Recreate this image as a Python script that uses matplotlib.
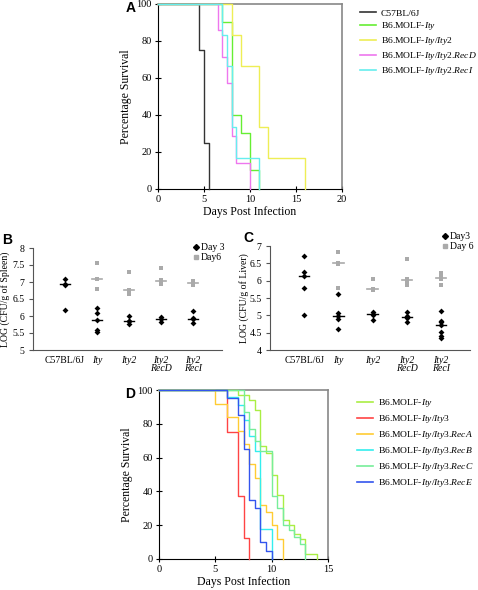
import numpy as np
import matplotlib
matplotlib.use("agg")
import matplotlib.pyplot as plt
from matplotlib.lines import Line2D

plt.rcParams["font.family"] = ["Liberation Serif", "DejaVu Serif"]
plt.rcParams["mathtext.fontset"] = "custom"
plt.rcParams["mathtext.rm"] = "Liberation Serif"
plt.rcParams["mathtext.it"] = "Liberation Serif:italic"

# ---- panel A: survival (time of drop, % surviving after drop)
a_names = ["C57BL/6J", "B6.MOLF-$\\mathit{Ity}$", "B6.MOLF-$\\mathit{Ity/Ity2}$",
           "B6.MOLF-$\\mathit{Ity/Ity2}$.$\\mathit{RecD}$",
           "B6.MOLF-$\\mathit{Ity/Ity2}$.$\\mathit{RecI}$"]
a_colors = ["#333333", "#66ee33", "#eeee55", "#ee77ee", "#66eeee"]
a_times = [[0, 4.5, 5, 5.5],
           [0, 7, 8, 9, 10, 11],
           [0, 8, 9, 11, 12, 16],
           [0, 6.5, 7, 7.5, 8, 8.5, 10],
           [0, 7, 7.5, 8, 8.5, 11]]
a_surv = [[100, 75, 25, 0],
          [100, 90, 40, 30, 10, 0],
          [100, 83.3, 66.7, 33.3, 16.7, 0],
          [100, 85.7, 71.4, 57.1, 28.6, 14.3, 0],
          [100, 83.3, 66.7, 33.3, 16.7, 0]]

# ---- panels B / C: log CFU
groups = ["C57BL/6J", "Ity", "Ity2", "Ity2\nRecD", "Ity2\nRecI"]
spleen_d3 = [[7.08, 6.95, 6.92, 6.18],
             [6.24, 6.09, 5.87, 5.58, 5.52],
             [6.01, 5.86, 5.84, 5.76],
             [5.98, 5.90, 5.82],
             [6.15, 5.95, 5.90, 5.80]]
spleen_d6 = [[],
             [7.57, 7.10, 7.08, 6.79],
             [7.30, 6.77, 6.65],
             [7.42, 7.05, 7.00, 6.95],
             [7.02, 6.98, 6.92]]
liver_d3 = [[6.71, 6.26, 6.14, 5.78, 5.01],
            [5.62, 5.07, 4.97, 4.88, 4.61],
            [5.10, 5.05, 5.00, 4.87],
            [5.10, 4.97, 4.92, 4.82],
            [5.12, 4.84, 4.80, 4.72, 4.51, 4.41, 4.35]]
liver_d6 = [[],
            [6.84, 6.52, 6.48, 5.80],
            [6.04, 5.76, 5.72],
            [6.62, 6.05, 6.00, 5.88],
            [6.21, 6.12, 6.05, 5.88]]

# ---- panel D: survival
d_names = ["B6.MOLF-$\\mathit{Ity}$", "B6.MOLF-$\\mathit{Ity/Ity3}$",
           "B6.MOLF-$\\mathit{Ity/Ity3}$.$\\mathit{RecA}$",
           "B6.MOLF-$\\mathit{Ity/Ity3}$.$\\mathit{RecB}$",
           "B6.MOLF-$\\mathit{Ity/Ity3}$.$\\mathit{RecC}$",
           "B6.MOLF-$\\mathit{Ity/Ity3}$.$\\mathit{RecE}$"]
d_colors = ["#aaee44", "#ff4444", "#ffcc33", "#33eeee", "#77ee99", "#3355ee"]
d_times = [[0, 7, 8, 8.5, 9, 9.5, 10, 10.5, 11, 11.5, 12, 12.5, 13, 14],
           [0, 6, 7, 7.5, 8],
           [0, 5, 6, 7, 7.5, 8, 8.5, 9, 9.5, 10, 10.5, 11],
           [0, 6, 7, 7.5, 8, 8.5, 9, 10],
           [0, 7.5, 8, 8.5, 9, 10, 10.5, 11, 11.5, 12, 12.5, 13],
           [0, 6, 7, 7.5, 8, 8.5, 9, 9.5, 10]]
d_surv = [[100, 97, 94, 88, 67, 63, 50, 38, 23, 20, 15, 12, 3, 0],
          [100, 75, 37.5, 12.5, 0],
          [100, 92, 84, 76, 68, 56, 48, 32, 28, 20, 12, 0],
          [100, 96, 91, 82, 73, 64, 18, 0],
          [100, 87, 77, 70, 64, 37, 30, 20, 17, 13, 9, 0],
          [100, 95, 85, 65, 35, 30, 10, 5, 0]]

W, H = 478, 590
fig = plt.figure(figsize=(W / 100, H / 100), dpi=100)


def px_axes(left, top, right, bottom):
    return fig.add_axes([left / W, 1 - bottom / H, (right - left) / W, (bottom - top) / H])


def survival(ax, times, survs, colors, xmax, xticks):
    for t, s, c in zip(times, survs, colors):
        ax.step(t, s, where="post", color=c, lw=1.0, zorder=3, clip_on=False)
    ax.set_xlim(0, xmax)
    ax.set_ylim(0, 100)
    ax.set_xticks(xticks)
    ax.set_yticks([0, 20, 40, 60, 80, 100])
    for side in ["top", "right"]:
        ax.spines[side].set_color("#888888")
        ax.spines[side].set_linewidth(1.2)
    ax.tick_params(direction="inout", length=5, labelsize=7.5, pad=2)
    ax.set_xlabel("Days Post Infection", fontsize=8.5, labelpad=1)
    ax.set_ylabel("Percentage Survival", fontsize=8.5, labelpad=3)


def legend(handles, labels, x, y, **kw):
    opts = dict(frameon=False, fontsize=6.8, handlelength=1.7, handletextpad=0.5,
                labelspacing=0.2, borderpad=0, borderaxespad=0)
    opts.update(kw)
    fig.legend(handles, labels, loc="upper left", bbox_to_anchor=(x / W, 1 - y / H), **opts)


# A
axA = px_axes(158, 4, 342, 189)
survival(axA, a_times, a_surv, a_colors, 20, [0, 5, 10, 15, 20])
legend([Line2D([], [], color=c, lw=1.2) for c in a_colors], a_names, 360, 9, labelspacing=0.3)


def cfu(ax, d3, d6, ymin, ymax, yticks, ylabel, xmax, labelpad):
    for i in range(len(groups)):
        x = i + 1
        if d6[i]:
            ax.scatter([x] * len(d6[i]), d6[i], marker="s", s=9, color="#aaaaaa", lw=0, zorder=3)
            m = np.median(d6[i])
            ax.plot([x - 0.15, x + 0.15], [m, m], color="#aaaaaa", lw=1.2, zorder=3)
        ax.scatter([x] * len(d3[i]), d3[i], marker="D", s=9, color="black", lw=0, zorder=4)
        m = np.median(d3[i])
        ax.plot([x - 0.15, x + 0.15], [m, m], color="black", lw=1.0, zorder=4)
    ax.set_xlim(0, xmax)
    ax.set_ylim(ymin, ymax)
    ax.set_yticks(yticks)
    ax.set_yticklabels([("%g" % v) for v in yticks])
    ax.set_xticks(range(1, len(groups) + 1))
    ax.set_xticklabels(groups, fontsize=7)
    for j, lab in enumerate(ax.get_xticklabels()):
        if j > 0:
            lab.set_fontstyle("italic")
        lab.set_linespacing(0.95)
    ax.spines["top"].set_visible(False)
    ax.spines["right"].set_visible(False)
    ax.spines["left"].set_color("#555555")
    ax.spines["bottom"].set_color("#555555")
    ax.tick_params(axis="y", direction="out", length=3, labelsize=7, pad=3, color="#555555")
    ax.tick_params(axis="x", length=0, pad=4)
    ax.set_ylabel(ylabel, fontsize=7, labelpad=labelpad)


# B
axB = px_axes(33, 248, 222, 350)
cfu(axB, spleen_d3, spleen_d6, 5, 8, [5, 5.5, 6, 6.5, 7, 7.5, 8],
    "LOG (CFU/g of Spleen)", 5.9, 2)
hB = [Line2D([], [], marker="D", ms=3, color="black", lw=0),
      Line2D([], [], marker="s", ms=3, color="#aaaaaa", lw=0)]
legend(hB, ["Day 3", "Day6"], 193, 243, fontsize=7, handlelength=0.6, handletextpad=0.2,
       labelspacing=0.15)

# C
axC = px_axes(270, 246, 470, 350)
cfu(axC, liver_d3, liver_d6, 4, 7, [4, 4.5, 5, 5.5, 6, 6.5, 7],
    "LOG (CFU/g of Liver)", 5.85, 0)
legend(hB, ["Day3", "Day 6"], 442, 232, fontsize=7, handlelength=0.6, handletextpad=0.2,
       labelspacing=0.15)

# D
axD = px_axes(159, 390, 328, 559)
survival(axD, d_times, d_surv, d_colors, 15, [0, 5, 10, 15])
legend([Line2D([], [], color=c, lw=1.2) for c in d_colors], d_names, 357, 397,
       labelspacing=0.42)

# panel letters
for letter, x, y in [("A", 131, 8), ("B", 7, 240), ("C", 248, 238), ("D", 130, 394)]:
    fig.text(x / W, 1 - y / H, letter, fontsize=10, fontweight="bold",
             family="Liberation Sans", ha="center", va="center")

fig.savefig("out.png", dpi=100)
